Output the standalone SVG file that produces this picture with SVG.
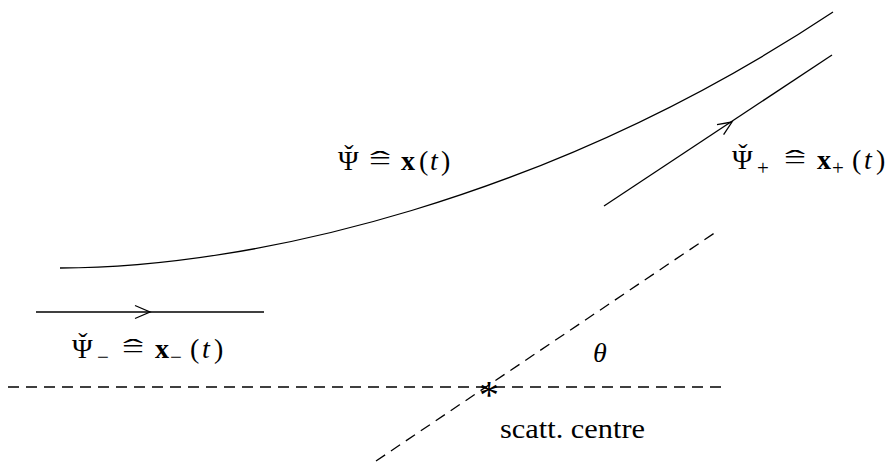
<svg xmlns="http://www.w3.org/2000/svg" width="892" height="462" viewBox="0 0 892 462">
<style>
.l{stroke:#000;stroke-width:1.3;fill:none}
.d{stroke:#000;stroke-width:1.3;fill:none;stroke-dasharray:11,7}
text{font-family:"Liberation Serif","DejaVu Serif",serif;font-size:28px;fill:#000}
.b{font-weight:bold}
.i{font-style:italic}
.s{font-size:21px}
.m{text-anchor:middle}
</style>
<rect width="892" height="462" fill="#fff"/>
<g id="connectors">
<path class="l" d="M60,268 C250,268 550,200 833,12"/>
<line class="l" x1="604" y1="206" x2="832" y2="55"/>
<path class="l" d="M717,124.7 L732,122 L723.6,134.7"/>
<line class="l" x1="36" y1="312" x2="264" y2="312"/>
<path class="l" d="M135,305.5 L150,312 L135,318.5"/>
<line class="d" x1="8" y1="387" x2="727" y2="387"/>
<line class="d" x1="376" y1="461" x2="716" y2="232"/>
</g>
<g id="centre">
<text x="479" y="408" style="font-size:40px">*</text>
<text x="500" y="438" textLength="145" lengthAdjust="spacingAndGlyphs">scatt. centre</text>
</g>
<g id="theta"><text class="i" x="593" y="362">θ</text></g>
<g id="psi">
<text x="338" y="170">Ψ</text>
<text class="m" x="349" y="164">ˇ</text>
<text x="369" y="170" textLength="22" lengthAdjust="spacingAndGlyphs">=</text>
<text class="m" x="380" y="170" textLength="20" lengthAdjust="spacingAndGlyphs">ˆ</text>
<text class="b" x="401" y="170">x</text>
<text x="419" y="170">(</text>
<text class="i" x="430" y="170">t</text>
<text x="441" y="170">)</text>
</g>
<g id="psiplus">
<text x="732" y="169">Ψ</text>
<text class="m" x="743" y="163">ˇ</text>
<text class="s" x="757" y="175">+</text>
<text x="784" y="169" textLength="22" lengthAdjust="spacingAndGlyphs">=</text>
<text class="m" x="795" y="169" textLength="20" lengthAdjust="spacingAndGlyphs">ˆ</text>
<text class="b" x="817" y="169">x</text>
<text class="s" x="832" y="175">+</text>
<text x="852" y="169">(</text>
<text class="i" x="864" y="169">t</text>
<text x="876" y="169">)</text>
</g>
<g id="psiminus">
<text x="72" y="358">Ψ</text>
<text class="m" x="83" y="352">ˇ</text>
<text class="s" x="97" y="364">−</text>
<text x="122" y="358" textLength="22" lengthAdjust="spacingAndGlyphs">=</text>
<text class="m" x="133" y="358" textLength="20" lengthAdjust="spacingAndGlyphs">ˆ</text>
<text class="b" x="155" y="358">x</text>
<text class="s" x="170" y="364">−</text>
<text x="190" y="358">(</text>
<text class="i" x="202" y="358">t</text>
<text x="214" y="358">)</text>
</g>
</svg>
